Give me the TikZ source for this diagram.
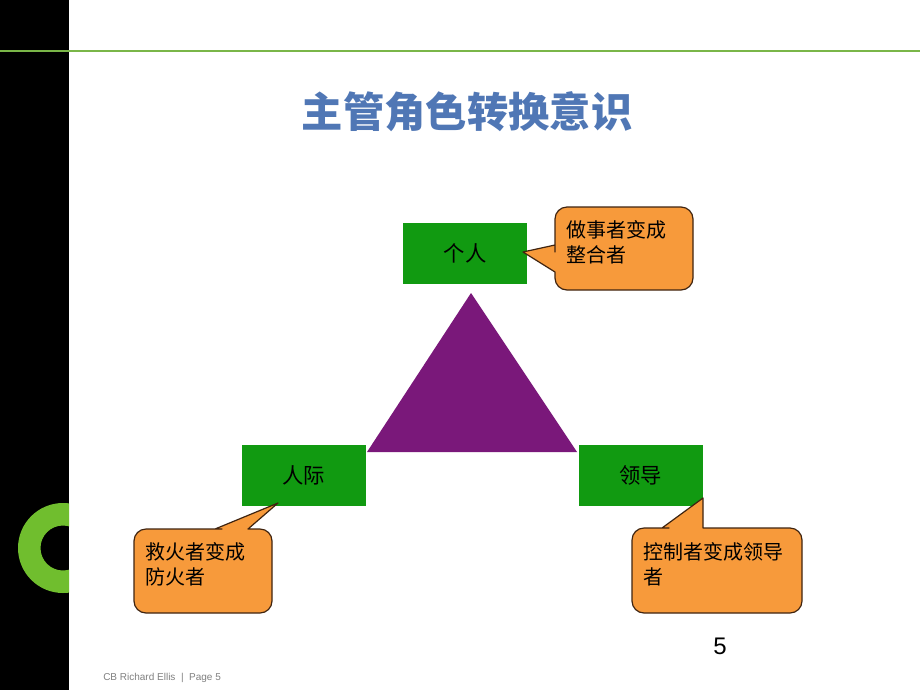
\documentclass[tikz,border=0pt]{standalone}
\usepackage{fontspec}
\setmainfont{Liberation Sans}
\newfontfamily\cjk{Noto Sans CJK SC}
\definecolor{boxgreen}{HTML}{119A11}
\definecolor{rulegreen}{HTML}{7AB648}
\definecolor{ringgreen}{HTML}{70BE2E}
\definecolor{titleblue}{HTML}{5077B5}
\definecolor{tripurple}{HTML}{7A187A}
\definecolor{bubbleorange}{HTML}{F79A3B}
\definecolor{bubbleedge}{HTML}{3F2410}
\begin{document}
\begin{tikzpicture}[x=0.75pt,y=-0.75pt,
    greenbox/.style={fill=boxgreen,minimum width=93pt,minimum height=45.75pt,inner sep=0pt,font=\cjk\fontsize{16}{19}\selectfont},
    bubble/.style={fill=bubbleorange,draw=bubbleedge,line width=0.9pt,line join=round},
    bubbletext/.style={anchor=north west,align=left,inner sep=0pt,font=\cjk\fontsize{15}{18.75}\selectfont}]
				\useasboundingbox (0,0) rectangle (920,690);
				\fill[white] (0,0) rectangle (920,690);
				\fill[black] (0,0) rectangle (69,690);
				\begin{scope}
					\clip (0,0) rectangle (69,690);
					\fill[ringgreen,even odd rule] (63,548) circle (45) (63,548) circle (22.5);
				\end{scope}
				\draw[rulegreen,line width=1.6pt] (0,51) -- (920,51);
				\node[font=\cjk\bfseries\fontsize{31}{36}\selectfont,text=titleblue] (title) at (467,112) {主管角色转换意识};
				\fill[tripurple] (471,293) -- (577,452) -- (367,452) -- cycle;
				\node[greenbox] (self) at (465,253.5) {个人};
				\node[greenbox] (people) at (303.5,475) {人际};
				\node[greenbox] (lead) at (640.5,475) {领导};
				\coordinate (selftip) at (523,252);
				\coordinate (peopletip) at (278,503);
				\coordinate (leadtip) at (703,498);
				\draw[bubble] (selftip) -- (555,272) -- (555,275) {[rounded corners=9pt] -- (555,290) -- (693,290) -- (693,207) -- (555,207) -- (555,240)} -- (555,245) -- cycle;
				\draw[bubble] (peopletip) -- (248,529) -- (252,529) {[rounded corners=9pt] -- (272,529) -- (272,613) -- (134,613) -- (134,529) -- (210,529)} -- (215,529) -- cycle;
				\draw[bubble] (leadtip) -- (703,528) -- (708,528) {[rounded corners=9pt] -- (802,528) -- (802,613) -- (632,613) -- (632,528) -- (657,528)} -- (662,528) -- cycle;
				\node[bubbletext] (selfnote) at (566,220) {做事者变成\\整合者};
				\node[bubbletext] (peoplenote) at (145,542) {救火者变成\\防火者};
				\node[bubbletext] (leadnote) at (643,542) {控制者变成领导\\者};
				\node[font=\fontsize{18}{20}\selectfont] (pagenum) at (720,646) {5};
				\node[anchor=west,inner sep=0pt,text=black!50,font=\fontsize{7.5}{9}\selectfont] (footer) at (103,678) {CB Richard Ellis \ | \ Page 5};
			\end{tikzpicture}
\end{document}
